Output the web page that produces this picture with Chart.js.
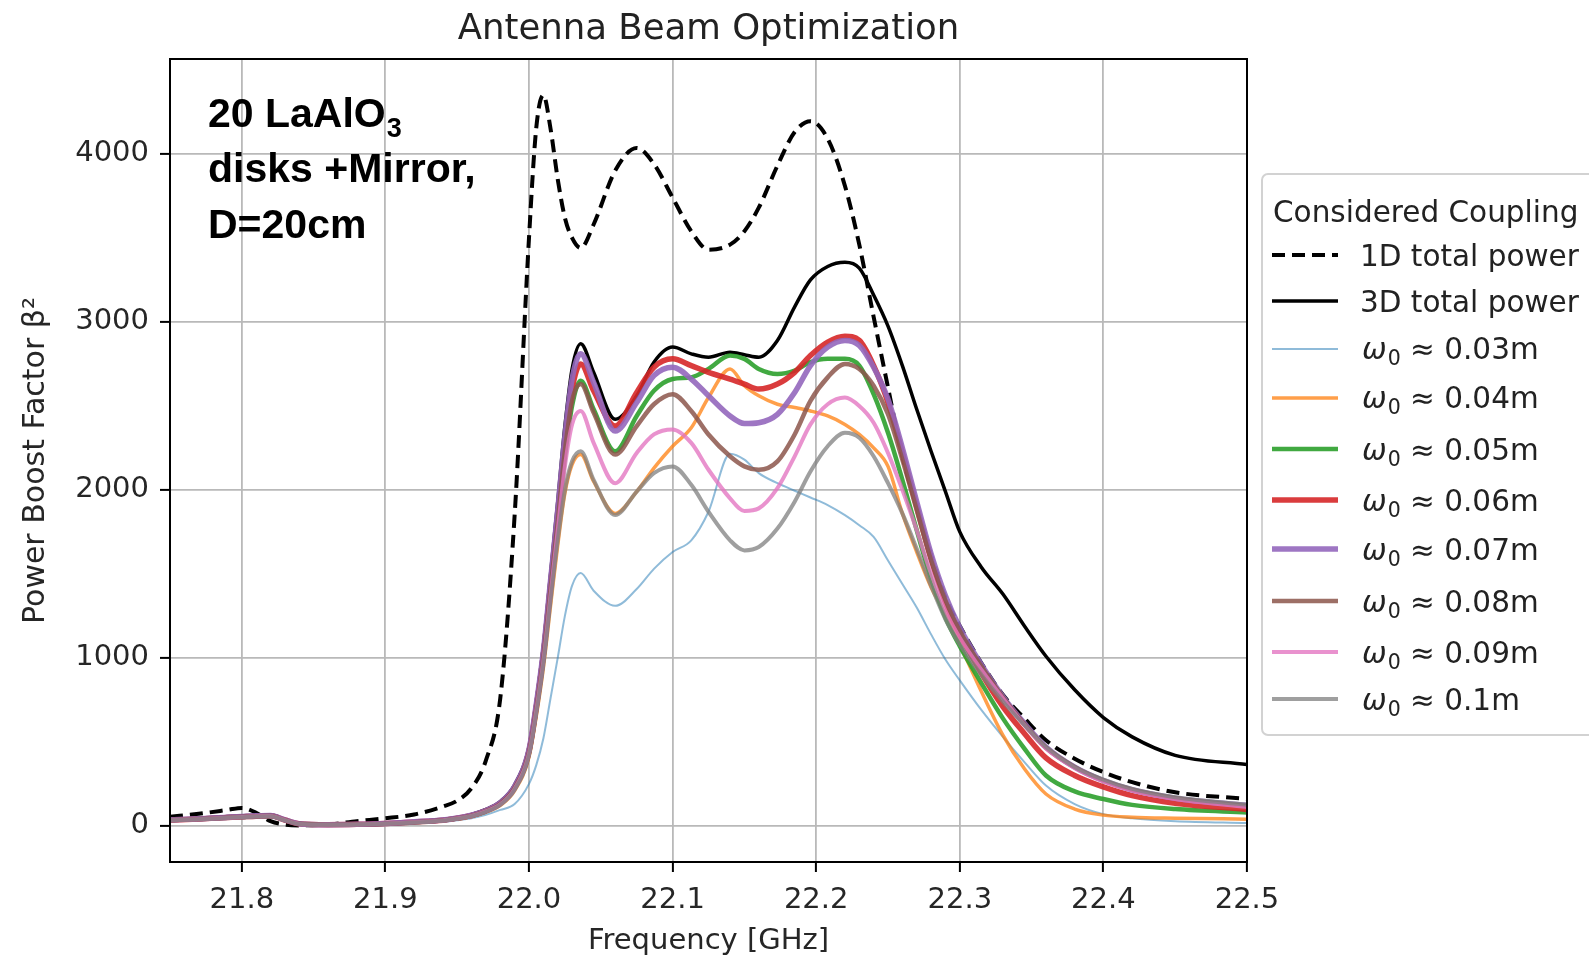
<!DOCTYPE html>
<html>
<head>
<meta charset="utf-8">
<title>Antenna Beam Optimization</title>
<script src="https://cdn.jsdelivr.net/npm/chart.js@4.4.1/dist/chart.umd.min.js"></script>
<style>
    html, body { margin: 0; padding: 0; background: #fff; }
    #wrap { width: 1589px; height: 957px; position: relative; }
</style>
</head>
<body>
<div id="wrap"><canvas id="boost-chart"></canvas></div>
<script>
// frequency grid [GHz] shared by all curves
const freqs = [21.75, 21.77, 21.79, 21.80, 21.81, 21.82, 21.83, 21.84, 21.86, 21.88,
    21.90, 21.92, 21.94, 21.95, 21.96, 21.97, 21.98, 21.99, 22.00, 22.005,
    22.01, 22.015, 22.02, 22.025, 22.03, 22.036, 22.045, 22.06, 22.075, 22.087,
    22.10, 22.113, 22.125, 22.14, 22.15, 22.16, 22.173, 22.185, 22.196, 22.208,
    22.22, 22.23, 22.24, 22.25, 22.26, 22.27, 22.28, 22.29, 22.30, 22.315,
    22.33, 22.345, 22.36, 22.38, 22.40, 22.42, 22.45, 22.50];

const xTicks = [21.8, 21.9, 22.0, 22.1, 22.2, 22.3, 22.4, 22.5];
const yTicks = [0, 1000, 2000, 3000, 4000];

const power1D = [54, 72, 95, 107, 78, 28, 8, 3, 8, 28,
    45, 68, 115, 150, 225, 390, 760, 1850, 3500, 4150,
    4350, 4150, 3850, 3620, 3500, 3440, 3580, 3900, 4035, 3940,
    3740, 3540, 3430, 3460, 3540, 3680, 3930, 4130, 4195, 4090,
    3810, 3460, 3030, 2610, 2200, 1900, 1610, 1360, 1190, 970,
    780, 640, 510, 400, 320, 260, 200, 160];

const power3D = [40, 46, 56, 60, 63, 66, 38, 14, 8, 10,
    16, 26, 38, 50, 68, 98, 145, 245, 470, 740,
    1070, 1500, 1930, 2380, 2720, 2870, 2700, 2420, 2560, 2760,
    2850, 2810, 2790, 2820, 2805, 2790, 2890, 3090, 3250, 3330,
    3355, 3320, 3160, 2975, 2740, 2480, 2230, 1990, 1750, 1540,
    1380, 1190, 1010, 810, 645, 530, 420, 365];

const beam003 = [28, 33, 40, 44, 47, 49, 28, 9, 5, 6,
    10, 16, 25, 34, 46, 66, 95, 130, 250, 360,
    520, 760, 1000, 1250, 1430, 1505, 1400, 1310, 1410, 1530,
    1630, 1700, 1870, 2215, 2180, 2100, 2040, 1995, 1955, 1910,
    1850, 1790, 1720, 1580, 1440, 1300, 1140, 990, 866, 690,
    530, 380, 240, 130, 70, 45, 28, 17];

const beam004 = [32, 38, 47, 52, 56, 58, 33, 11, 6, 8,
    12, 20, 30, 41, 56, 82, 122, 210, 410, 650,
    940, 1310, 1670, 1980, 2150, 2210, 2050, 1860, 1990, 2130,
    2260, 2370, 2550, 2720, 2620, 2560, 2510, 2490, 2470, 2440,
    2390, 2330, 2250, 2140, 1860, 1630, 1420, 1260, 1081, 800,
    540, 340, 190, 100, 64, 52, 46, 40];

const beam005 = [34, 40, 49, 53, 57, 59, 34, 12, 6, 8,
    13, 22, 33, 45, 61, 88, 132, 225, 435, 690,
    995, 1390, 1780, 2190, 2500, 2650, 2480, 2230, 2440, 2590,
    2660, 2670, 2720, 2800, 2780, 2720, 2690, 2710, 2760, 2780,
    2780, 2740, 2570, 2340, 2060, 1760, 1470, 1240, 1070, 850,
    640, 460, 300, 205, 160, 125, 100, 80];

const beam006 = [35, 41, 50, 54, 58, 60, 35, 12, 7, 9,
    14, 23, 34, 46, 62, 90, 135, 230, 445, 705,
    1020, 1430, 1840, 2270, 2600, 2750, 2590, 2380, 2580, 2730,
    2780, 2740, 2700, 2660, 2630, 2600, 2630, 2700, 2800, 2880,
    2915, 2890, 2740, 2520, 2220, 1900, 1590, 1330, 1140, 910,
    710, 550, 405, 300, 232, 180, 135, 98];

const beam007 = [36, 42, 52, 56, 60, 62, 36, 13, 7, 9,
    14, 24, 35, 47, 64, 92, 138, 235, 455, 720,
    1040, 1460, 1880, 2320, 2660, 2810, 2640, 2350, 2520, 2680,
    2730, 2660, 2560, 2440, 2395, 2400, 2450, 2580, 2740, 2850,
    2890, 2860, 2730, 2540, 2250, 1930, 1620, 1370, 1180, 960,
    770, 610, 470, 350, 270, 215, 165, 122];

const beam008 = [35, 41, 50, 54, 58, 60, 35, 12, 7, 9,
    13, 22, 33, 45, 61, 88, 132, 226, 440, 695,
    1005, 1410, 1810, 2230, 2530, 2630, 2460, 2210, 2380, 2510,
    2570, 2470, 2330, 2200, 2140, 2120, 2170, 2330, 2530, 2670,
    2750, 2720, 2620, 2450, 2180, 1880, 1580, 1340, 1160, 950,
    765, 605, 465, 350, 270, 215, 165, 118];

const beam009 = [34, 40, 49, 53, 57, 59, 34, 12, 6, 8,
    13, 21, 32, 44, 59, 86, 128, 220, 430, 680,
    980, 1370, 1760, 2140, 2390, 2470, 2280, 2040, 2220, 2330,
    2360, 2280, 2120, 1950, 1875, 1890, 2010, 2200, 2390, 2510,
    2550, 2500, 2400, 2220, 2000, 1760, 1500, 1280, 1120, 930,
    760, 600, 460, 345, 265, 210, 160, 112];

const beam010 = [33, 39, 48, 52, 56, 58, 33, 11, 6, 8,
    12, 20, 31, 42, 57, 84, 125, 215, 420, 665,
    960, 1340, 1700, 2000, 2170, 2230, 2060, 1850, 1990, 2100,
    2140, 2030, 1870, 1700, 1640, 1660, 1770, 1930, 2110, 2260,
    2340, 2310, 2200, 2040, 1860, 1650, 1430, 1230, 1080, 900,
    740, 600, 470, 350, 275, 220, 170, 125];

const waists = ['0.03', '0.04', '0.05', '0.06', '0.07', '0.08', '0.09', '0.1'];
const beamSeries = [beam003, beam004, beam005, beam006, beam007, beam008, beam009, beam010];

const beamColors = [
    'rgba(31, 119, 180, 0.5)',
    'rgba(255, 127, 14, 0.75)',
    'rgba(44, 160, 44, 0.9)',
    'rgba(214, 39, 40, 0.9)',
    'rgba(148, 103, 189, 0.9)',
    'rgba(140, 86, 75, 0.85)',
    'rgba(227, 119, 194, 0.8)',
    'rgba(127, 127, 127, 0.75)'
];
const beamWidths = [2, 3.5, 4.5, 5.5, 5.5, 4.5, 4, 4];

const toPoints = (values) => values.map((v, i) => ({x: freqs[i], y: v}));

const datasets = [
    {
        label: '1D total power',
        data: toPoints(power1D),
        borderColor: '#000',
        borderWidth: 4,
        borderDash: [13, 7],
    },
    {
        label: '3D total power',
        data: toPoints(power3D),
        borderColor: '#000',
        borderWidth: 3.5,
    }
];
beamSeries.forEach((series, i) => {
    datasets.push({
        label: 'ω₀ ≈ ' + waists[i] + 'm',
        waist: waists[i],
        data: toPoints(series),
        borderColor: beamColors[i],
        borderWidth: beamWidths[i],
    });
});
// matplotlib draws later lines on top
datasets.forEach((ds, i) => {
    ds.order = datasets.length - i;
    ds.pointRadius = 0;
    ds.fill = false;
    ds.cubicInterpolationMode = 'monotone';
});

const frameAndNotes = {
    id: 'frameAndNotes',
    afterDraw(chart) {
        const ctx = chart.ctx;
        const area = chart.chartArea;
        ctx.save();

        // plot frame
        ctx.strokeStyle = '#000';
        ctx.lineWidth = 2;
        ctx.strokeRect(area.left, area.top, area.right - area.left, area.bottom - area.top);

        // setup note
        ctx.fillStyle = '#000';
        ctx.textBaseline = 'alphabetic';
        ctx.font = 'bold 41px "Liberation Sans"';
        ctx.fillText('20 LaAlO', 208, 127);
        const w = ctx.measureText('20 LaAlO').width;
        ctx.font = 'bold 27px "Liberation Sans"';
        ctx.fillText('3', 208 + w + 1, 137);
        ctx.font = 'bold 41px "Liberation Sans"';
        ctx.fillText('disks +Mirror,', 208, 182);
        ctx.fillText('D=20cm', 208, 238);

        // legend
        const boxLeft = 1262, boxTop = 174, boxBottom = 735;
        ctx.beginPath();
        ctx.roundRect(boxLeft, boxTop, 400, boxBottom - boxTop, 6);
        ctx.fillStyle = 'rgba(255,255,255,0.85)';
        ctx.fill();
        ctx.strokeStyle = '#d2d2d2';
        ctx.lineWidth = 2;
        ctx.stroke();

        ctx.fillStyle = '#222';
        ctx.font = '29.5px "DejaVu Sans"';
        ctx.fillText('Considered Coupling', 1273, 222);

        const baselines = [266, 312, 359, 408, 460, 511, 560, 612, 663, 710];
        const lineYs = [255, 301, 349, 398, 449, 500, 549, 601, 652, 699];
        chart.data.datasets.forEach((ds, i) => {
            ctx.beginPath();
            ctx.strokeStyle = ds.borderColor;
            ctx.lineWidth = ds.borderWidth;
            ctx.setLineDash(ds.borderDash || []);
            ctx.moveTo(1272, lineYs[i]);
            ctx.lineTo(1338, lineYs[i]);
            ctx.stroke();
            ctx.setLineDash([]);

            ctx.fillStyle = '#222';
            if (ds.waist) {
                let x = 1362;
                ctx.font = 'italic 29.5px "DejaVu Sans"';
                ctx.fillText('ω', x, baselines[i]);
                x += ctx.measureText('ω').width;
                ctx.font = '20.5px "DejaVu Sans"';
                ctx.fillText('0', x + 1, baselines[i] + 6);
                x += ctx.measureText('0').width + 1;
                ctx.font = '29.5px "DejaVu Sans"';
                ctx.fillText(' ≈ ' + ds.waist + 'm', x, baselines[i]);
            } else {
                ctx.font = '29.5px "DejaVu Sans"';
                ctx.fillText(ds.label, 1360, baselines[i]);
            }
        });
        ctx.restore();
    }
};

const tickFont = {family: 'DejaVu Sans', size: 29};

new Chart(document.getElementById('boost-chart').getContext('2d'), {
    type: 'line',
    data: {datasets: datasets},
    options: {
        responsive: true,
        maintainAspectRatio: false,
        devicePixelRatio: 1,
        animation: false,
        layout: {padding: {left: 0, right: 342, top: 0, bottom: 0}},
        plugins: {
            legend: {display: false},
            tooltip: {enabled: false},
            title: {
                display: true,
                text: 'Antenna Beam Optimization',
                fullSize: false,
                color: '#222',
                font: {family: 'DejaVu Sans', size: 35.5, weight: 'normal'},
                padding: {top: 8, bottom: 8.4}
            }
        },
        scales: {
            x: {
                type: 'linear',
                min: 21.75,
                max: 22.5,
                afterBuildTicks: (scale) => {
                    scale.ticks = xTicks.map(v => ({value: v}));
                },
                afterFit: (scale) => {
                    scale.height = 95;
                },
                ticks: {
                    font: tickFont,
                    color: '#262626',
                    padding: 11,
                    autoSkip: false,
                    maxRotation: 0,
                    callback: (v) => Number(v).toFixed(1)
                },
                grid: {
                    color: '#b9b9b9',
                    lineWidth: 1.8,
                    drawTicks: true,
                    tickLength: 10,
                    tickColor: '#000',
                    tickWidth: 2
                },
                border: {display: false},
                title: {
                    display: true,
                    text: 'Frequency [GHz]',
                    color: '#262626',
                    font: tickFont,
                    padding: {top: 0, bottom: -2}
                }
            },
            y: {
                type: 'linear',
                min: -215,
                max: 4565,
                afterBuildTicks: (scale) => {
                    scale.ticks = yTicks.map(v => ({value: v}));
                },
                afterFit: (scale) => {
                    scale.width = 170;
                },
                ticks: {
                    font: tickFont,
                    color: '#262626',
                    padding: 11,
                    callback: (v) => String(v)
                },
                grid: {
                    color: '#b9b9b9',
                    lineWidth: 1.8,
                    drawTicks: true,
                    tickLength: 10,
                    tickColor: '#000',
                    tickWidth: 2
                },
                border: {display: false},
                title: {
                    display: true,
                    text: 'Power Boost Factor β²',
                    color: '#262626',
                    font: {family: 'DejaVu Sans', size: 30},
                    padding: {top: 18, bottom: 0}
                }
            }
        }
    },
    plugins: [frameAndNotes]
});
</script>
</body>
</html>
